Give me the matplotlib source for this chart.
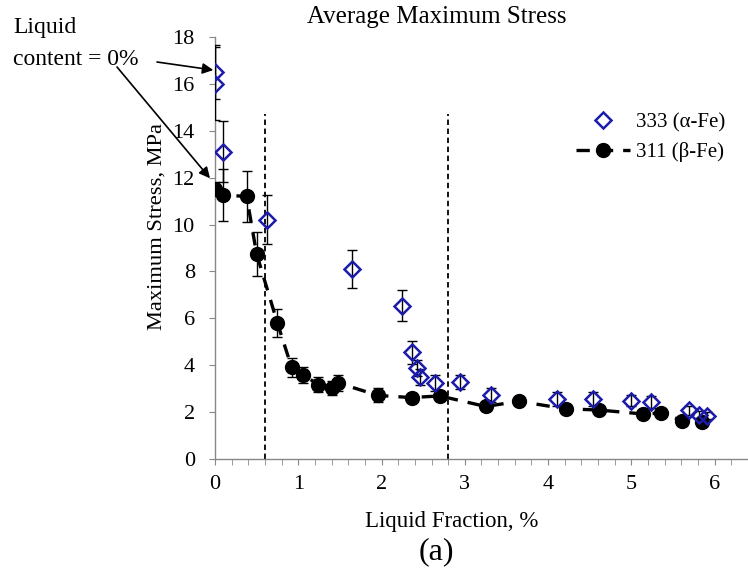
import numpy as np
import matplotlib
matplotlib.use("Agg")
import matplotlib.pyplot as plt
from matplotlib.ticker import MultipleLocator

plt.rcParams['font.family'] = ['Liberation Serif', 'DejaVu Serif']
plt.rcParams['mathtext.fontset'] = 'stix'

# ── dados ──
# 311 (β-Fe): círculos pretos com linha tracejada
beta_x = [0.0, 0.10, 0.38, 0.50, 0.75, 0.92, 1.06, 1.24, 1.41, 1.48, 1.96,
          2.36, 2.70, 3.25, 3.65, 4.21, 4.61, 5.14, 5.36, 5.61, 5.85]
beta_y = [11.5, 11.25, 11.2, 8.75, 5.8, 3.92, 3.6, 3.18, 3.04, 3.25, 2.72,
          2.63, 2.7, 2.25, 2.47, 2.15, 2.1, 1.93, 1.97, 1.65, 1.57]
beta_err = [0.3, 1.1, 1.1, 0.95, 0.6, 0.4, 0.35, 0.33, 0.3, 0.35, 0.3,
            0.2, 0.2, 0.15, 0.15, 0.1, 0.1, 0.1, 0.1, 0.1, 0.1]

# 333 (α-Fe): losangos azuis vazados
alpha_x = [0.0, 0.0, 0.10, 0.63, 1.65, 2.25, 2.36, 2.42, 2.46, 2.64, 2.94,
           3.31, 4.11, 4.54, 5.0, 5.23, 5.69, 5.81, 5.91]
alpha_y = [16.5, 16.0, 13.1, 10.2, 8.1, 6.55, 4.55, 3.9, 3.5, 3.25, 3.28,
           2.75, 2.57, 2.57, 2.5, 2.43, 2.08, 1.9, 1.85]
alpha_err = [1.15, 1.55, 1.3, 1.05, 0.82, 0.67, 0.5, 0.35, 0.35, 0.35, 0.3,
             0.3, 0.28, 0.28, 0.25, 0.25, 0.2, 0.15, 0.15]

limites_x = [0.6, 2.8]   # linhas verticais tracejadas
topo_limites = 14.7

AZUL = "#1c1caa"

fig = plt.figure(figsize=(7.48, 5.71), dpi=100)
ax = fig.add_axes([0.2874, 0.1956, 0.7126, 0.7401])

# linha de tendência + pontos β
ax.errorbar(beta_x, beta_y, yerr=beta_err, fmt="none", ecolor="black",
            elinewidth=1.0, capsize=3.6, capthick=1.0, zorder=2)
ax.plot(beta_x, beta_y, color="black", linestyle=(0, (4, 3)), linewidth=2.4,
        marker="o", markersize=10, markerfacecolor="black",
        markeredgecolor="black", zorder=3, label="311 (β-Fe)")

# pontos α
ax.errorbar(alpha_x, alpha_y, yerr=alpha_err, fmt="none", ecolor="black",
            elinewidth=1.0, capsize=3.6, capthick=1.0, zorder=4)
ax.plot(alpha_x, alpha_y, linestyle="none", marker="D", markersize=8,
        markerfacecolor="none", markeredgecolor=AZUL, markeredgewidth=1.8,
        zorder=5, label="333 (α-Fe)")

ax.vlines(limites_x, 0, topo_limites, colors="black", linestyles=(0, (3, 2)),
          linewidth=1.3, zorder=1)

ax.set_xlim(0, 6.4)
ax.set_ylim(0, 18)
ax.xaxis.set_major_locator(MultipleLocator(1))
ax.xaxis.set_minor_locator(MultipleLocator(0.2))
ax.yaxis.set_major_locator(MultipleLocator(2))
ax.tick_params(axis="both", which="both", direction="out", length=4.5,
               color="#888888", labelsize=16)
ax.tick_params(axis="y", pad=10)
ax.tick_params(axis="x", pad=7)
for s in ["top", "right"]:
    ax.spines[s].set_visible(False)
for s in ["left", "bottom"]:
    ax.spines[s].set_color("#888888")
    ax.spines[s].set_linewidth(1.0)

h, l = ax.get_legend_handles_labels()
ax.legend(h[::-1], l[::-1], loc="upper right", bbox_to_anchor=(0.995, 0.835),
          bbox_transform=fig.transFigure, frameon=False, fontsize=15,
          handlelength=2.6, handletextpad=0.3, labelspacing=0.45)

# textos
fig.text(0.584, 1 - 17 / 571, "Average Maximum Stress", ha="center",
         va="center", fontsize=18)
fig.text(0.604, 1 - 521 / 571, "Liquid Fraction, %", ha="center",
         va="center", fontsize=16.5)
fig.text(0.584, 1 - 552 / 571, "(a)", ha="center", va="center", fontsize=23)
fig.text(157 / 748, 1 - 226 / 571, "Maximum Stress, MPa", ha="center",
         va="center", rotation=90, fontsize=16.2)
fig.text(13 / 748, 1 - 33 / 571, "Liquid", ha="left", va="baseline",
         fontsize=17)
fig.text(13 / 748, 1 - 65 / 571, "content = 0%", ha="left", va="baseline",
         fontsize=17)

seta = dict(arrowstyle="-|>", color="black", lw=1.2, mutation_scale=16,
            shrinkA=0, shrinkB=0)
ax.annotate("", xy=(-0.02, 16.58), xycoords="data",
            xytext=(157, 571 - 62), textcoords="figure pixels",
            arrowprops=seta, annotation_clip=False)
ax.annotate("", xy=(-0.06, 11.97), xycoords="data",
            xytext=(117, 571 - 67), textcoords="figure pixels",
            arrowprops=seta, annotation_clip=False)

fig.savefig("out.png", dpi=100)
